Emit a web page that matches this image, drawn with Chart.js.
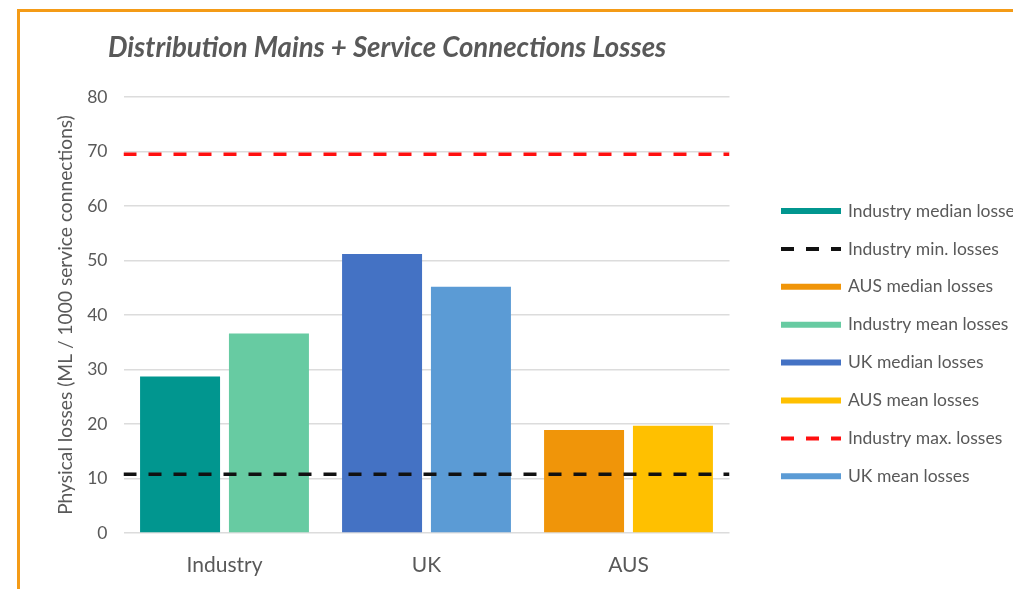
<!DOCTYPE html>
<html><head><meta charset="utf-8">
<script src="https://cdn.jsdelivr.net/npm/chart.js@4.4.0/dist/chart.umd.min.js"></script>
<style>
html,body{margin:0;padding:0;background:#fff;overflow:hidden;width:1013px;height:589px;}
#frame{position:absolute;left:17px;top:9px;width:1100px;height:700px;border:3px solid #F49B17;box-sizing:border-box;}
#wrap{position:absolute;left:0;top:0;width:1013px;height:589px;}
</style></head><body>
<div id="frame"></div>
<div id="wrap"><canvas id="c" width="1013" height="589"></canvas></div>
<script>
const chartTitle = 'Distribution Mains + Service Connections Losses';
const yAxisTitle = 'Physical losses (ML / 1000 service connections)';
const categories = ['Industry', 'UK', 'AUS'];
const yTickValues = [0, 10, 20, 30, 40, 50, 60, 70, 80];

// median and mean losses per category (Industry, UK, AUS)
const medianLosses = [28.7, 51.2, 18.9];
const meanLosses   = [36.6, 45.2, 19.7];
// industry min / max reference levels
const industryMinLoss = 10.8;
const industryMaxLoss = 69.5;

const legendLabels = [
  'Industry median losses', 'Industry min. losses', 'AUS median losses',
  'Industry mean losses', 'UK median losses', 'AUS mean losses',
  'Industry max. losses', 'UK mean losses'
];

const medianColors = ['#01968F', '#4472C4', '#F09509'];
const meanColors   = ['#67CBA2', '#5B9BD5', '#FFC000'];
const minColor = '#111111';
const maxColor = '#FF1010';
const legendStyles = [
  { color: medianColors[0] }, { color: minColor, dash: true }, { color: medianColors[2] },
  { color: meanColors[0] }, { color: medianColors[1] }, { color: meanColors[2] },
  { color: maxColor, dash: true }, { color: meanColors[1] }
];

const TEXT = '#595959';
const FONT = 'Lato';

// x axis domain: one unit per category, half a unit of margin on each side
const X_MIN = -0.5;
const X_MAX = categories.length - 0.5;
const toPoints = arr => arr.map((v, i) => ({ x: i, y: v }));
const levelLine = v => [{ x: X_MIN, y: v }, { x: X_MAX, y: v }];

const datasets = [
  { type: 'bar', label: 'median losses', data: toPoints(medianLosses), backgroundColor: medianColors,
    borderWidth: 0, categoryPercentage: 0.88, barPercentage: 0.9, order: 2 },
  { type: 'bar', label: 'mean losses', data: toPoints(meanLosses), backgroundColor: meanColors,
    borderWidth: 0, categoryPercentage: 0.88, barPercentage: 0.9, order: 2 },
  { type: 'line', label: legendLabels[1], data: levelLine(industryMinLoss), borderColor: minColor,
    borderWidth: 3.5, borderDash: [13, 12], pointRadius: 0, fill: false, order: 1 },
  { type: 'line', label: legendLabels[6], data: levelLine(industryMaxLoss), borderColor: maxColor,
    borderWidth: 3.5, borderDash: [13, 12], pointRadius: 0, fill: false, order: 1 }
];

const overlay = {
  id: 'overlay',
  afterDraw(chart) {
    const ctx = chart.ctx;
    ctx.save();
    ctx.fillStyle = TEXT;
    ctx.textAlign = 'left';
    ctx.textBaseline = 'alphabetic';
    ctx.font = 'italic bold 27.6px ' + FONT;
    ctx.fillText(chartTitle, 108, 57);
    legendLabels.forEach((label, i) => {
      const st = legendStyles[i];
      const y = 211 + i * 37.9;
      ctx.beginPath();
      ctx.strokeStyle = st.color;
      if (st.dash) { ctx.setLineDash([13, 12]); ctx.lineWidth = 4; }
      else { ctx.setLineDash([]); ctx.lineWidth = 6; }
      ctx.moveTo(781, y);
      ctx.lineTo(841, y);
      ctx.stroke();
      ctx.setLineDash([]);
      ctx.fillStyle = TEXT;
      ctx.font = '17.5px ' + FONT;
      ctx.textBaseline = 'middle';
      ctx.fillText(label, 848, y);
    });
    ctx.restore();
  }
};

new Chart(document.getElementById('c'), {
  type: 'bar',
  data: { datasets },
  plugins: [overlay],
  options: {
    responsive: false,
    animation: false,
    devicePixelRatio: 1,
    layout: { padding: { left: 0, top: 97, right: 283.5, bottom: 0 } },
    plugins: { legend: { display: false }, title: { display: false }, tooltip: { enabled: false } },
    scales: {
      x: {
        type: 'linear', min: X_MIN, max: X_MAX, offset: false,
        afterBuildTicks(s) { s.ticks = categories.map((c, i) => ({ value: i })); },
        grid: { display: false, drawTicks: false }, border: { display: false },
        ticks: { color: TEXT, font: { family: FONT, size: 21 }, padding: 19.5,
                 autoSkip: false, maxRotation: 0,
                 callback: v => categories[v] },
        afterFit(s) { s.height = 56; }
      },
      y: {
        min: 0, max: 80,
        afterBuildTicks(s) { s.ticks = yTickValues.map(v => ({ value: v })); },
        ticks: { color: TEXT, font: { family: FONT, size: 17.5 }, padding: 16 },
        grid: { color: '#DCDCDC', lineWidth: 1.5, drawTicks: false },
        border: { display: false },
        title: { display: true, text: yAxisTitle, color: TEXT,
                 font: { family: FONT, size: 19.2 }, padding: { top: 54, bottom: 0 } },
        afterFit(s) { s.width = 123.5; }
      }
    }
  }
});
</script>
</body></html>
